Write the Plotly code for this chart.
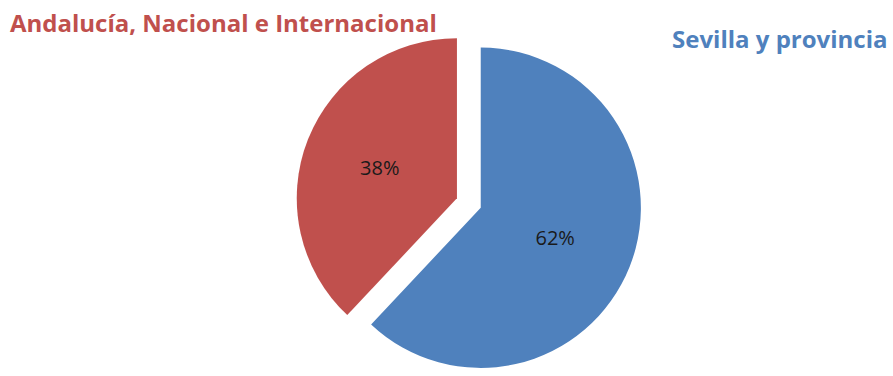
import plotly.graph_objects as go

labels = ["Sevilla y provincia", "Andalucía, Nacional e Internacional"]
values = [62, 38]
colors = ["#4F81BD", "#C0504D"]
title_colors = ["#4F81BD", "#C0504D"]

fig = go.Figure(go.Pie(
    labels=labels,
    values=values,
    sort=False,
    direction="clockwise",
    rotation=0,
    pull=[0.08, 0.08],
    marker=dict(colors=colors, line=dict(color="white", width=0)),
    texttemplate="%{percent:.0%}",
    textposition="inside",
    insidetextorientation="horizontal",
    textfont=dict(family="Open Sans", size=20, color="#1a1a1a"),
    domain=dict(x=[0.2, 0.85], y=[0.0, 0.92]),
    hoverinfo="label+percent",
    showlegend=False,
))

fig.add_annotation(text="<b>" + labels[1] + "</b>", x=0.009, y=1 - 22 / 376, xref="paper", yref="paper",
                   xanchor="left", yanchor="middle", showarrow=False,
                   font=dict(family="Open Sans", size=24, color=title_colors[1]))
fig.add_annotation(text="<b>" + labels[0] + "</b>", x=0.997, y=1 - 38 / 376, xref="paper", yref="paper",
                   xanchor="right", yanchor="middle", showarrow=False,
                   font=dict(family="Open Sans", size=24, color=title_colors[0]))

fig.update_layout(width=893, height=376, margin=dict(l=0, r=0, t=0, b=0),
                  paper_bgcolor="white", plot_bgcolor="white")
fig.write_html("out.html")
